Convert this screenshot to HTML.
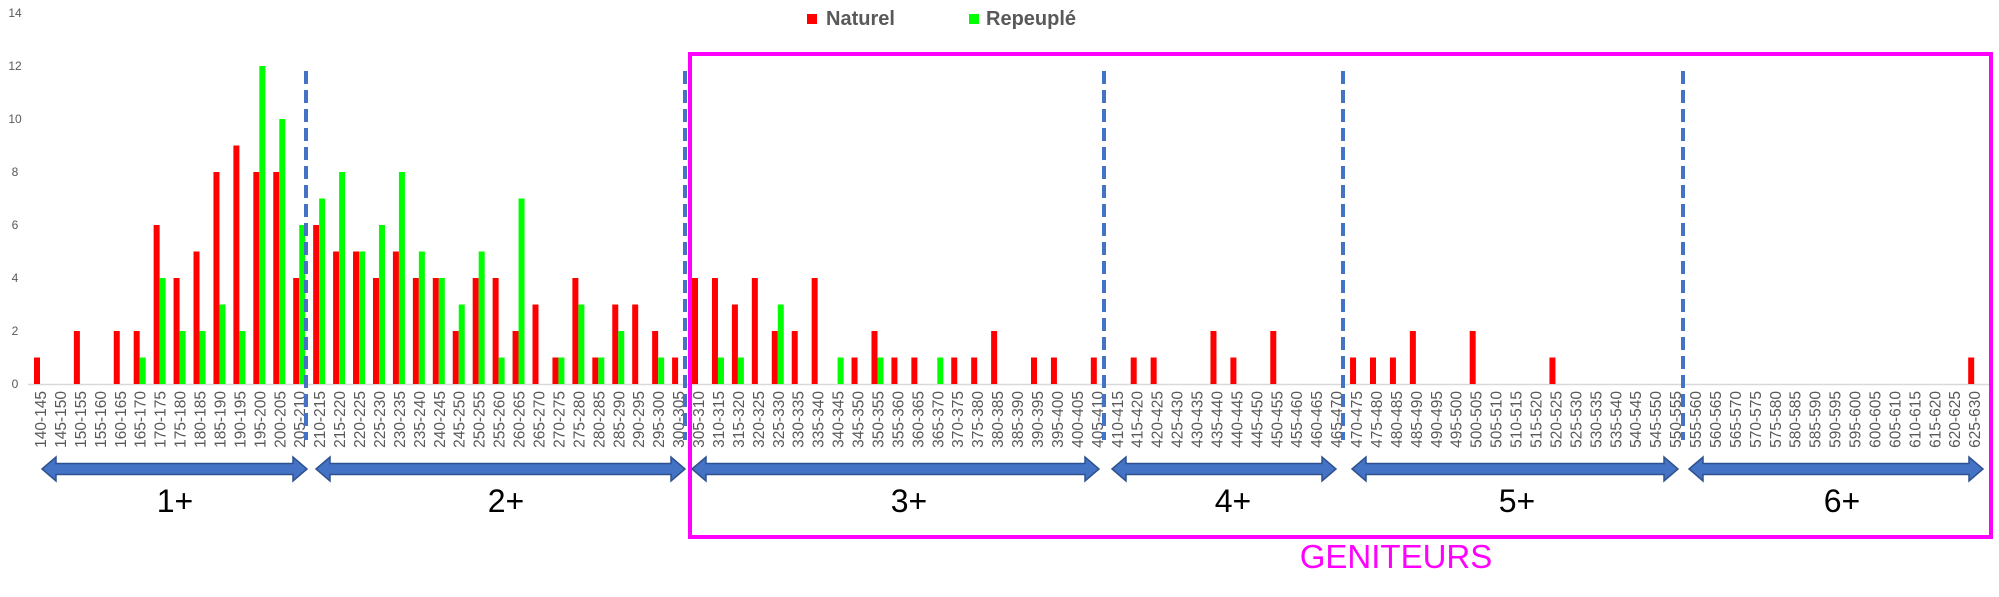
<!DOCTYPE html>
<html><head><meta charset="utf-8"><style>
html,body{margin:0;padding:0;background:#fff;}
svg{display:block;font-family:"Liberation Sans",sans-serif;}
</style></head><body>
<svg id="s" width="1999" height="597" viewBox="0 0 1999 597" xmlns="http://www.w3.org/2000/svg">
<g id="g"></g>
<rect x="807" y="14" width="10" height="10" fill="#ff0000"/>
<text x="826" y="25" font-size="20" font-weight="bold" fill="#595959">Naturel</text>
<rect x="969" y="14" width="10" height="10" fill="#00ff00"/>
<text x="986" y="25" font-size="20" font-weight="bold" fill="#595959">Repeuplé</text>
<rect x="690" y="54" width="1301" height="483" fill="none" stroke="#ff00ff" stroke-width="4"/>
<text x="1396" y="568" font-size="33" fill="#ff00ff" text-anchor="middle">GENITEURS</text>
<g font-size="32" fill="#000" text-anchor="middle">
<text x="175" y="512">1+</text>
<text x="506" y="512">2+</text>
<text x="909" y="512">3+</text>
<text x="1233" y="512">4+</text>
<text x="1517" y="512">5+</text>
<text x="1842" y="512">6+</text>
</g>
</svg>
<script>
var g=document.getElementById('g');var ns="http://www.w3.org/2000/svg";
function el(t,a,txt){var e=document.createElementNS(ns,t);for(var k in a)e.setAttribute(k,a[k]);if(txt!==undefined)e.textContent=txt;g.appendChild(e);return e;}
var base=384,u=26.5;
for(var v=0;v<=14;v+=2){el('text',{x:15,y:base-v*u+4,'font-size':12,fill:'#595959','text-anchor':'middle'},v);}
el('line',{x1:28,y1:base+0.5,x2:1990,y2:base+0.5,stroke:'#d9d9d9','stroke-width':1.5});
var R={140:1,150:2,160:2,165:2,170:6,175:4,180:5,185:8,190:9,195:8,200:8,205:4,210:6,215:5,220:5,225:4,230:5,235:4,240:4,245:2,250:4,255:4,260:2,265:3,270:1,275:4,280:1,285:3,290:3,295:2,300:1,305:4,310:4,315:3,320:4,325:2,330:2,335:4,345:1,350:2,355:1,360:1,370:1,375:1,380:2,390:1,395:1,405:1,415:1,420:1,435:2,440:1,450:2,470:1,475:1,480:1,485:2,500:2,520:1,625:1};
var G={165:1,170:4,175:2,180:2,185:3,190:2,195:12,200:10,205:6,210:7,215:8,220:5,225:6,230:8,235:5,240:4,245:3,250:5,255:1,260:7,270:1,275:3,280:1,285:2,295:1,310:1,315:1,325:3,340:1,350:1,365:1};
for(var i=0;i<98;i++){var lo=140+5*i;var c=40+i*19.94;
 if(R[lo])el('rect',{x:c-6,y:base-R[lo]*u,width:6,height:R[lo]*u,fill:'#ff0000'});
 if(G[lo])el('rect',{x:c,y:base-G[lo]*u,width:6,height:G[lo]*u,fill:'#00ff00'});
 el('text',{x:0,y:0,'font-size':15.5,fill:'#595959','text-anchor':'end',transform:'translate('+(c+6)+',391) rotate(-90)'},lo+'-'+(lo+5));
}
[306,685,1104,1343,1683].forEach(function(x){el('line',{x1:x,y1:71,x2:x,y2:440,stroke:'#4472c4','stroke-width':4,'stroke-dasharray':'13,6'});});
[[42,307],[316,685],[692,1099],[1112,1336],[1352,1678],[1689,1983]].forEach(function(p){var a=p[0],b=p[1],y=469,h=12,s=5.5,w=14;
 el('path',{d:'M'+a+','+y+' L'+(a+w)+','+(y-h)+' L'+(a+w)+','+(y-s)+' L'+(b-w)+','+(y-s)+' L'+(b-w)+','+(y-h)+' L'+b+','+y+' L'+(b-w)+','+(y+h)+' L'+(b-w)+','+(y+s)+' L'+(a+w)+','+(y+s)+' L'+(a+w)+','+(y+h)+' Z',fill:'#4472c4',stroke:'#2f528f','stroke-width':1.5});});
</script>
</body></html>
